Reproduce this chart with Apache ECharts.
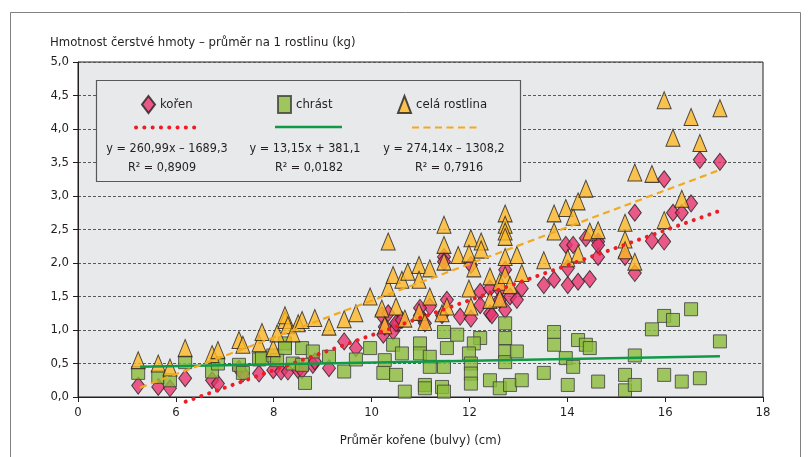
<!DOCTYPE html>
<html>
<head>
<meta charset="utf-8">
<script src="https://cdn.jsdelivr.net/npm/echarts@6/dist/echarts.min.js"></script>
<style>
  html, body { margin: 0; padding: 0; background: #fff; }
  #chart { width: 809px; height: 457px; }
</style>
</head>
<body>
<div id="chart"></div>
<script>
// hodnoty: [průměr kořene (cm), hmotnost (kg)]
var koren = [
  [5.23,0.17],[5.64,0.15],[5.88,0.13],[6.19,0.28],[6.74,0.25],[6.86,0.20],[7.29,0.42],[7.37,0.35],
  [7.70,0.35],[7.99,0.40],[8.15,0.38],[8.29,0.38],[8.50,0.40],[8.80,0.48],[9.13,0.43],[8.84,0.53],
  [8.58,0.40],[9.44,0.83],[9.68,0.73],[10.21,1.22],[10.24,0.93],[10.44,0.98],[10.54,1.10],[10.34,1.25],
  [10.27,1.05],[10.50,1.10],[10.62,1.15],[10.99,1.22],[11.09,1.10],[11.19,1.35],[10.99,1.33],[11.44,1.22],
  [11.54,1.45],[11.48,2.09],[11.48,2.02],[11.81,1.20],[12.03,1.17],[12.03,1.97],[12.22,1.57],[12.22,1.37],
  [12.42,1.25],[12.42,1.62],[12.46,1.22],[12.62,1.60],[12.62,1.45],[12.73,1.90],[12.73,1.30],[12.83,1.50],
  [12.97,1.45],[13.07,1.62],[13.52,1.67],[13.73,1.75],[14.01,1.67],[14.22,1.72],[14.46,1.76],[13.97,2.27],
  [14.12,2.27],[14.38,2.37],[14.63,2.32],[14.63,2.09],[14.01,1.92],[15.18,2.09],[15.38,1.85],[15.38,2.75],
  [15.73,2.33],[15.98,2.32],[15.98,3.25],[16.16,2.75],[16.34,2.75],[16.53,2.89],[16.71,3.54],[17.12,3.51],
  [14.63,2.27]
];
var chrast = [
  [5.23,0.36],[5.64,0.30],[5.88,0.25],[6.19,0.52],[6.74,0.38],[6.86,0.50],[7.29,0.48],[7.37,0.36],
  [7.70,0.56],[7.76,0.58],[7.99,0.62],[8.07,0.55],[8.23,0.80],[8.23,0.73],[8.39,0.50],[8.58,0.48],
  [8.58,0.73],[8.80,0.68],[8.64,0.21],[9.13,0.60],[9.44,0.38],[9.68,0.56],[9.97,0.73],[10.27,0.55],
  [10.24,0.36],[10.50,0.33],[10.44,0.78],[10.62,0.65],[10.68,0.08],[10.99,0.80],[10.99,0.65],[11.19,0.60],
  [11.19,0.45],[11.09,0.18],[11.09,0.13],[11.48,0.97],[11.54,0.73],[11.48,0.45],[11.44,0.15],[11.48,0.08],
  [11.75,0.93],[12.22,0.88],[12.09,0.80],[11.99,0.65],[12.03,0.50],[12.03,0.35],[12.03,0.20],[12.42,0.25],
  [12.62,0.13],[12.83,0.18],[13.07,0.25],[12.73,1.10],[12.73,0.88],[12.73,0.68],[12.73,0.52],[12.97,0.68],
  [13.52,0.36],[13.73,0.97],[13.73,0.78],[13.97,0.58],[14.12,0.45],[14.01,0.18],[14.22,0.85],[14.38,0.78],
  [14.46,0.73],[14.63,0.23],[15.18,0.33],[15.18,0.10],[15.38,0.18],[15.38,0.62],[15.73,1.01],[15.98,1.21],
  [16.16,1.15],[16.53,1.31],[17.12,0.83],[15.98,0.33],[16.34,0.23],[16.71,0.28]
];
var celaRostlina = [
  [5.23,0.55],[5.64,0.50],[5.88,0.44],[6.19,0.73],[6.74,0.64],[6.86,0.70],[7.29,0.85],[7.37,0.78],
  [7.70,0.80],[7.76,0.97],[7.99,0.73],[8.07,0.95],[8.23,1.15],[8.23,1.22],[8.29,1.07],[8.39,0.95],
  [8.50,1.10],[8.58,1.15],[8.84,1.18],[9.13,1.05],[9.44,1.16],[9.68,1.25],[9.97,1.50],[10.34,2.32],
  [10.21,1.32],[10.27,1.07],[10.34,1.63],[10.44,1.82],[10.50,1.35],[10.62,1.75],[10.74,1.87],[10.68,1.17],
  [10.97,1.97],[10.97,1.75],[11.19,1.92],[11.19,1.50],[10.97,1.27],[11.09,1.12],[11.48,2.57],[11.48,2.27],
  [11.48,2.02],[11.44,1.25],[11.54,1.35],[11.77,2.12],[12.03,2.37],[11.99,2.14],[12.09,1.92],[12.24,2.32],
  [12.24,2.20],[11.99,1.62],[12.03,1.35],[12.42,1.80],[12.42,1.45],[12.62,1.47],[12.62,1.72],[12.73,2.74],
  [12.73,2.57],[12.73,2.47],[12.73,2.39],[12.73,2.09],[12.73,1.82],[12.83,1.67],[12.97,2.12],[13.07,1.85],
  [13.52,2.04],[13.73,2.74],[13.73,2.47],[13.97,2.82],[14.12,2.69],[14.22,2.92],[14.38,3.11],[14.01,2.07],
  [14.22,2.14],[14.46,2.47],[14.63,2.49],[15.18,2.60],[15.18,2.35],[15.18,2.19],[15.38,2.02],[15.38,3.35],
  [15.73,3.33],[15.98,4.43],[16.16,3.87],[16.53,4.18],[16.71,3.79],[17.12,4.31],[16.34,2.96],[15.98,2.64]
];
// koncové body spojnic trendu (odečteno)
var trendKoren = [[6.2,-0.07],[17.12,2.78]];
var trendChrast = [[5.27,0.45],[17.12,0.61]];
var trendCela = [[5.27,0.14],[17.12,3.39]];
var xTicks = [4, 6, 8, 10, 12, 14, 16, 18];
var xTickLabels = ['0', '6', '8', '10', '12', '14', '16', '18'];
var rovnice = ['y = 260,99x \u2013 1689,3', 'y = 13,15x + 381,1', 'y = 274,14x \u2013 1308,2'];
var spolehlivost = ['R\u00b2 = 0,8909', 'R\u00b2 = 0,0182', 'R\u00b2 = 0,7916'];

var font = "'DejaVu Sans Condensed', 'Liberation Sans Narrow', sans-serif";
var txt = '#231f20';

var myChart = echarts.init(document.getElementById('chart'));
var legendBase = {
  orient: 'horizontal', padding: 0, itemWidth: 13, itemHeight: 17,
  textStyle: { fontFamily: font, fontSize: 13, color: txt }, selectedMode: false
};
var option = {
  backgroundColor: '#fff',
  animation: false,
  grid: {
    left: 78, right: 46, top: 62, bottom: 60,
    show: true, backgroundColor: '#e8e9eb', borderColor: '#231f20', borderWidth: 1
  },
  legend: [
    echarts.util.extend({ data: ['kořen'], left: 141, top: 95 }, legendBase),
    echarts.util.extend({ data: ['chrást'], left: 277, top: 95 }, legendBase),
    echarts.util.extend({ data: ['celá rostlina'], left: 397, top: 95 }, legendBase)
  ],
  xAxis: {
    type: 'value', min: 4, max: 18, interval: 2,
    name: 'Průměr kořene (bulvy) (cm)', nameLocation: 'middle', nameGap: 37,
    nameTextStyle: { fontFamily: font, fontSize: 13, color: txt },
    axisLine: { show: true, lineStyle: { color: '#231f20', width: 1 } },
    axisTick: { show: true, length: 5, lineStyle: { color: '#231f20' } },
    axisLabel: {
      fontFamily: font, fontSize: 13, color: txt, margin: 9,
      formatter: function (v) { var i = xTicks.indexOf(v); return i >= 0 ? xTickLabels[i] : ''; }
    },
    splitLine: { show: false }
  },
  yAxis: {
    type: 'value', min: 0, max: 5, interval: 0.5,
    axisLine: { show: true, lineStyle: { color: '#231f20', width: 1 } },
    axisTick: { show: true, length: 5, lineStyle: { color: '#231f20' } },
    axisLabel: {
      fontFamily: font, fontSize: 13, color: txt, margin: 9,
      formatter: function (v) { return v.toFixed(1).replace('.', ','); }
    },
    splitLine: { show: true, lineStyle: { color: '#58595b', type: [3, 2], width: 1 } }
  },
  graphic: [
    { type: 'rect', shape: { x: 10.5, y: 12.5, width: 790, height: 470 },
      style: { fill: 'none', stroke: '#808080', lineWidth: 1 }, z: -10 },
    { type: 'text', left: 50, top: 36,
      style: { text: 'Hmotnost čerstvé hmoty \u2013 průměr na 1 rostlinu (kg)', font: '13px ' + font, fill: txt } },
    { type: 'rect', shape: { x: 96.5, y: 80.5, width: 424, height: 101 },
      style: { fill: '#e8e9eb', stroke: '#58595b', lineWidth: 1.2 }, z: 50 },
    { type: 'line', shape: { x1: 136, y1: 127.5, x2: 195, y2: 127.5 },
      style: { stroke: '#ee1d25', lineWidth: 4, lineDash: [0.1, 8.2], lineCap: 'round' }, z: 51 },
    { type: 'line', shape: { x1: 275, y1: 127, x2: 342, y2: 127 },
      style: { stroke: '#0f9a48', lineWidth: 2.5 }, z: 51 },
    { type: 'line', shape: { x1: 412, y1: 127.5, x2: 477, y2: 127.5 },
      style: { stroke: '#f2a91e', lineWidth: 2.2, lineDash: [7, 4.5] }, z: 51 },
    { type: 'text', x: 167, y: 149, z: 51,
      style: { text: rovnice[0], font: '12.5px ' + font, fill: txt, align: 'center', verticalAlign: 'middle' } },
    { type: 'text', x: 305, y: 149, z: 51,
      style: { text: rovnice[1], font: '12.5px ' + font, fill: txt, align: 'center', verticalAlign: 'middle' } },
    { type: 'text', x: 444, y: 149, z: 51,
      style: { text: rovnice[2], font: '12.5px ' + font, fill: txt, align: 'center', verticalAlign: 'middle' } },
    { type: 'text', x: 162, y: 168, z: 51,
      style: { text: spolehlivost[0], font: '12.5px ' + font, fill: txt, align: 'center', verticalAlign: 'middle' } },
    { type: 'text', x: 309, y: 168, z: 51,
      style: { text: spolehlivost[1], font: '12.5px ' + font, fill: txt, align: 'center', verticalAlign: 'middle' } },
    { type: 'text', x: 449, y: 168, z: 51,
      style: { text: spolehlivost[2], font: '12.5px ' + font, fill: txt, align: 'center', verticalAlign: 'middle' } }
  ],
  series: [
    {
      name: 'kořen', type: 'scatter', data: koren, symbol: 'diamond', symbolSize: [13, 17], z: 2,
      itemStyle: { color: '#e8336e', borderColor: '#231f20', borderWidth: 1 }
    },
    {
      name: 'chrást', type: 'scatter', data: chrast, symbol: 'rect', symbolSize: [13, 13], z: 2,
      itemStyle: { color: '#8cbb3c', borderColor: '#3d3d3d', borderWidth: 1 }
    },
    {
      name: 'celá rostlina', type: 'scatter', data: celaRostlina, symbol: 'triangle', symbolSize: [14, 17], z: 2,
      itemStyle: { color: '#fdb827', borderColor: '#231f20', borderWidth: 1 }
    },
    {
      type: 'line', data: trendKoren, symbol: 'none', clip: false, z: 3, silent: true,
      lineStyle: { color: '#ee1d25', width: 4, type: [0.1, 8.2], cap: 'round' }
    },
    {
      type: 'line', data: trendChrast, symbol: 'none', z: 3, silent: true,
      lineStyle: { color: '#0f9a48', width: 2.5 }
    },
    {
      type: 'line', data: trendCela, symbol: 'none', z: 3, silent: true,
      lineStyle: { color: '#f2a91e', width: 2.2, type: [7, 4.5] }
    }
  ]
};
option.legend.forEach(function (l) { l.z = 60; });
myChart.setOption(option);
</script>
</body>
</html>
